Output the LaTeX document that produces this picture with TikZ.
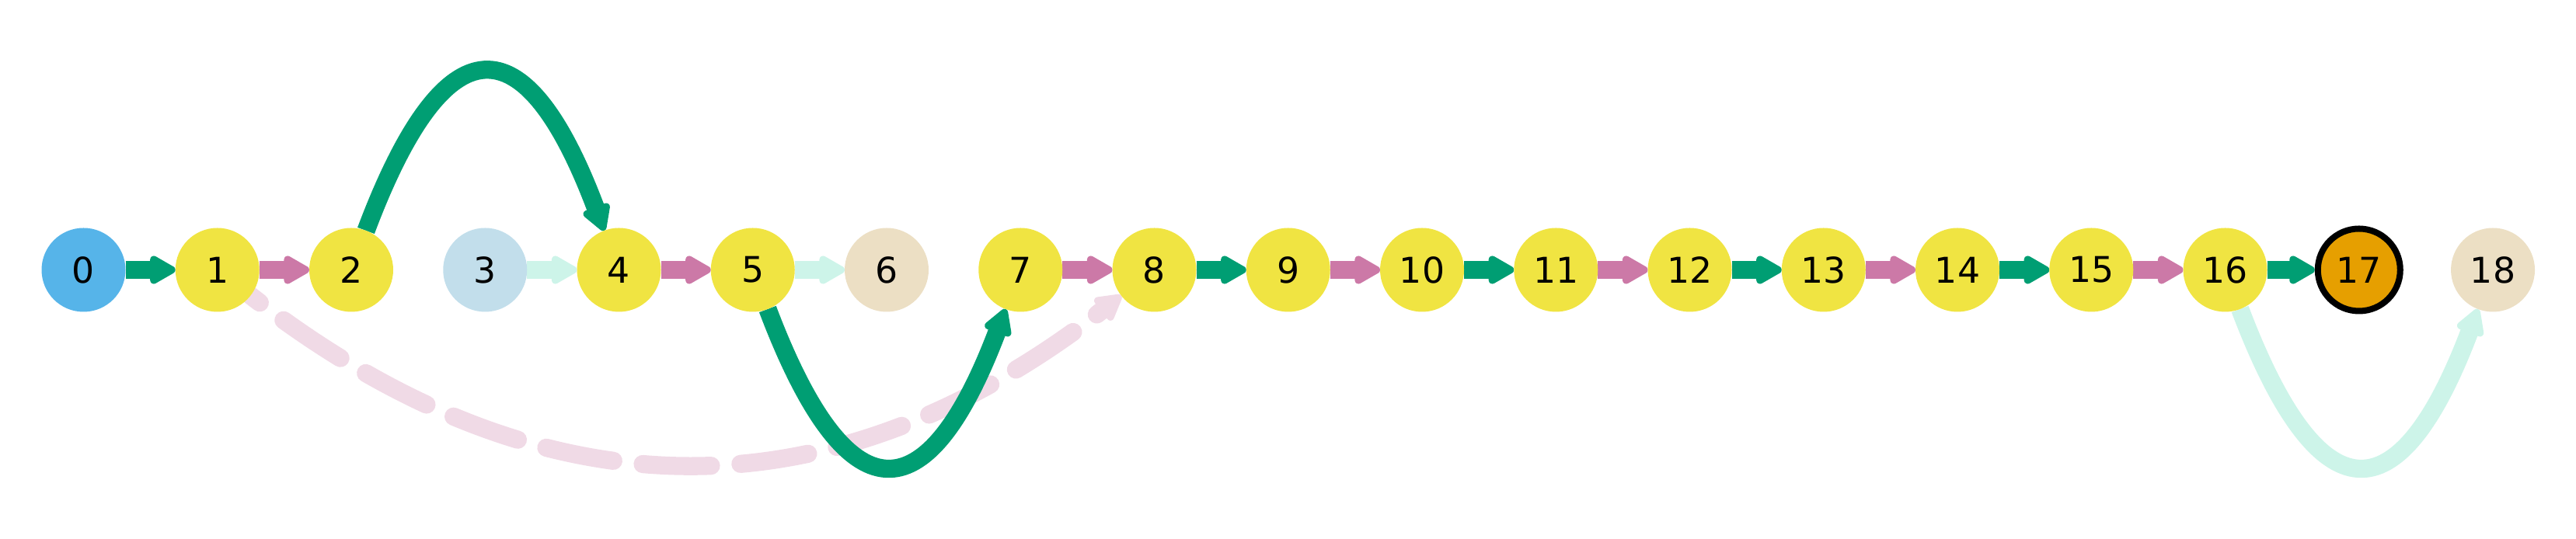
\documentclass[tikz,border=0pt]{standalone}
\usepackage{fontspec}
\setmainfont{DejaVu Sans}
\usetikzlibrary{arrows.meta,calc}
\definecolor{cgreen}{HTML}{009E73}
\definecolor{cpink}{HTML}{CC79A7}
\definecolor{cmint}{HTML}{CDF4E9}
\definecolor{cdash}{HTML}{F0DAE6}
\definecolor{cyellow}{HTML}{F0E442}
\definecolor{csky}{HTML}{56B4E9}
\definecolor{cpale}{HTML}{C2DEEB}
\definecolor{cbeige}{HTML}{ECDFC4}
\definecolor{corange}{HTML}{E69F00}
\pgfdeclarelayer{edges}
\pgfsetlayers{edges,main}
\tikzset{
  vtx/.style={circle, inner sep=0pt, outer sep=0pt, minimum size=1.08cm,
    font=\fontsize{13pt}{15pt}\selectfont, text=black},
  goal/.style={vtx, minimum size=1.06cm, draw=black, line width=0.08cm, outer sep=0.04cm},
  edge/.style={line width=0.233cm, -{Triangle[round,line width=0pt 1,length=0.38cm,width=0.40cm]}},
  eg/.style={edge, draw=cgreen},
  ep/.style={edge, draw=cpink},
  em/.style={edge, draw=cmint},
  ed/.style={edge, draw=cdash, dash pattern=on 0.88cm off 0.38cm, dash phase=0.73cm, line cap=round}
}
\begin{document}
\begin{tikzpicture}
\useasboundingbox (0,0) rectangle (33.15,6.94);
\node[vtx, fill=csky]    (n0)  at (1.075,3.465)   {0};
\node[vtx, fill=cyellow] (n1)  at (2.7975,3.465)  {1};
\node[vtx, fill=cyellow] (n2)  at (4.52,3.465)    {2};
\node[vtx, fill=cpale]   (n3)  at (6.2425,3.465)  {3};
\node[vtx, fill=cyellow] (n4)  at (7.965,3.465)   {4};
\node[vtx, fill=cyellow] (n5)  at (9.6875,3.465)  {5};
\node[vtx, fill=cbeige]  (n6)  at (11.41,3.465)   {6};
\node[vtx, fill=cyellow] (n7)  at (13.1325,3.465) {7};
\node[vtx, fill=cyellow] (n8)  at (14.855,3.465)  {8};
\node[vtx, fill=cyellow] (n9)  at (16.5775,3.465) {9};
\node[vtx, fill=cyellow] (n10) at (18.30,3.465)   {10};
\node[vtx, fill=cyellow] (n11) at (20.0225,3.465) {11};
\node[vtx, fill=cyellow] (n12) at (21.745,3.465)  {12};
\node[vtx, fill=cyellow] (n13) at (23.4675,3.465) {13};
\node[vtx, fill=cyellow] (n14) at (25.19,3.465)   {14};
\node[vtx, fill=cyellow] (n15) at (26.9125,3.465) {15};
\node[vtx, fill=cyellow] (n16) at (28.635,3.465)  {16};
\node[goal, fill=corange] (n17) at (30.3575,3.465) {17};
\node[vtx, fill=cbeige]  (n18) at (32.08,3.465)   {18};
\begin{pgfonlayer}{edges}
\draw[ed] (n1) .. controls ($(n1)+(4.160,-3.227)$) and ($(n8)+(-4.160,-3.227)$) .. (n8);
\draw[eg] (n0) -- (n1);
\draw[ep] (n1) -- (n2);
\draw[eg] (n2) .. controls ($(n2)+(1.209,3.219)$) and ($(n4)+(-1.209,3.219)$) .. (n4);
\draw[em] (n3) -- (n4);
\draw[ep] (n4) -- (n5);
\draw[em] (n5) -- (n6);
\draw[eg] (n5) .. controls ($(n5)+(1.209,-3.197)$) and ($(n7)+(-1.209,-3.197)$) .. (n7);
\draw[ep] (n7) -- (n8);
\draw[eg] (n8) -- (n9);
\draw[ep] (n9) -- (n10);
\draw[eg] (n10) -- (n11);
\draw[ep] (n11) -- (n12);
\draw[eg] (n12) -- (n13);
\draw[ep] (n13) -- (n14);
\draw[eg] (n14) -- (n15);
\draw[ep] (n15) -- (n16);
\draw[eg] (n16) -- (n17);
\draw[em] (n16) .. controls ($(n16)+(1.209,-3.197)$) and ($(n18)+(-1.209,-3.197)$) .. (n18);
\end{pgfonlayer}
\end{tikzpicture}
\end{document}
